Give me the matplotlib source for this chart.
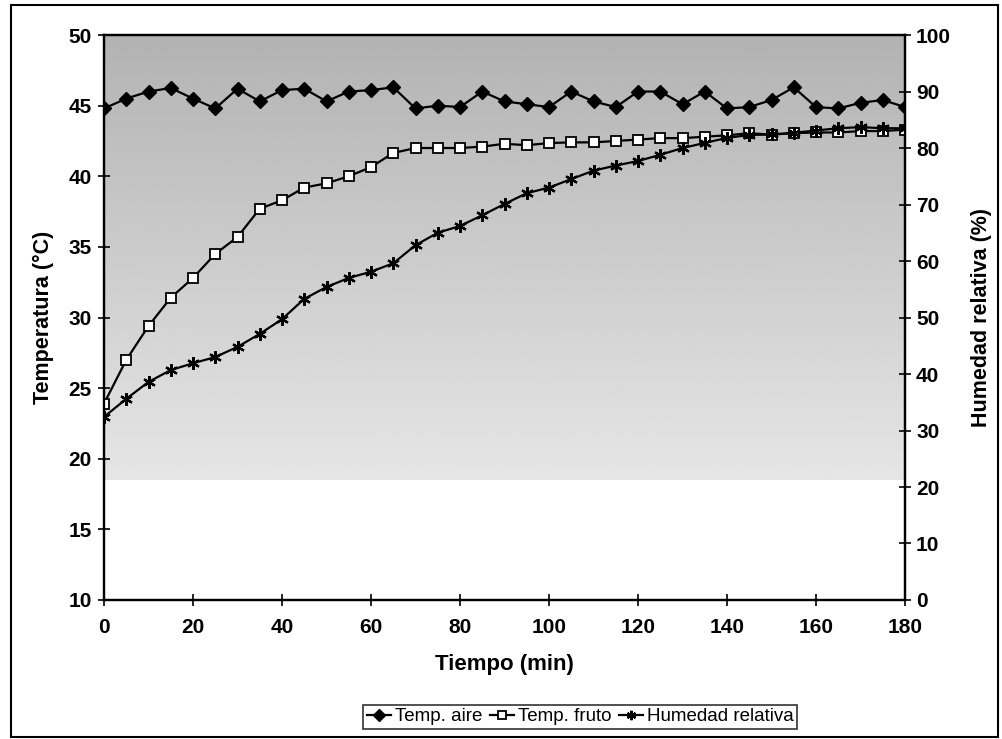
import numpy as np
import matplotlib
matplotlib.use("Agg")
import matplotlib.pyplot as plt
from matplotlib.patches import Rectangle

# time in minutes, one reading every 5 min
tiempo = list(range(0, 185, 5))

temp_aire = [44.8, 45.5, 46.0, 46.25, 45.5, 44.8, 46.2, 45.3, 46.1, 46.2,
             45.3, 46.0, 46.1, 46.3, 44.8, 45.0, 44.9, 46.0, 45.3, 45.1,
             44.9, 46.0, 45.3, 44.9, 46.0, 46.0, 45.1, 46.0, 44.8, 44.9,
             45.4, 46.3, 44.9, 44.8, 45.2, 45.4, 44.9]

temp_fruto = [23.9, 27.0, 29.4, 31.4, 32.8, 34.5, 35.7, 37.7, 38.3, 39.2,
              39.5, 40.0, 40.65, 41.65, 42.0, 42.0, 42.0, 42.1, 42.3, 42.2,
              42.35, 42.4, 42.4, 42.5, 42.6, 42.7, 42.7, 42.8, 42.9, 43.05,
              42.95, 43.05, 43.1, 43.1, 43.2, 43.2, 43.3]

humedad = [32.4, 35.6, 38.6, 40.7, 41.9, 43.0, 44.8, 47.1, 49.7, 53.3,
           55.4, 57.0, 58.1, 59.6, 62.8, 65.0, 66.2, 68.1, 70.1, 72.0,
           73.0, 74.5, 76.0, 76.9, 77.7, 78.8, 80.0, 80.9, 81.8, 82.3,
           82.4, 82.7, 83.1, 83.5, 83.7, 83.5, 83.5]

plt.rcParams['font.family'] = ['Liberation Sans', 'DejaVu Sans']

fig = plt.figure(figsize=(10.02, 7.39), dpi=100)
ax = fig.add_axes([0.1038, 0.1881, 0.7994, 0.7645])
ax2 = ax.twinx()

# shaded (halftone-like) background, lighter towards the bottom
grad = np.linspace(0.90, 0.70, 200).reshape(-1, 1)
ax.imshow(grad, extent=[0, 180, 18.5, 50], origin='lower', aspect='auto',
          cmap='gray', vmin=0, vmax=1, zorder=0)

ax.plot(tiempo, temp_aire, color='black', lw=1.6, marker='D', ms=7.5,
        mfc='black', mec='black', label='Temp. aire', zorder=3)
ax.plot(tiempo, temp_fruto, color='black', lw=1.6, marker='s', ms=7.5,
        mfc='white', mec='black', mew=1.3, label='Temp. fruto', zorder=3)
ax2.plot(tiempo, humedad, color='black', lw=1.6, marker=(6, 2, 0), ms=9,
         mec='black', mew=1.6, label='Humedad relativa', zorder=3)

ax.set_xlim(0, 180)
ax.set_ylim(10, 50)
ax2.set_ylim(0, 100)
ax.set_xticks(range(0, 181, 20))
ax.set_yticks(range(10, 51, 5))
ax2.set_yticks(range(0, 101, 10))

for a in (ax, ax2):
    for s in a.spines.values():
        s.set_linewidth(1.6)
ax.tick_params(direction='inout', length=8, width=1.2, labelsize=15, pad=5)
ax.tick_params(axis='x', pad=9)
ax2.tick_params(direction='inout', length=8, width=1.2, labelsize=15, pad=4)
for lab in ax.get_xticklabels() + ax.get_yticklabels() + ax2.get_yticklabels():
    lab.set_fontweight('bold')

ax.set_xlabel('Tiempo (min)', fontsize=16, fontweight='bold', labelpad=12)
ax.set_ylabel('Temperatura (°C)', fontsize=15.5, fontweight='bold', labelpad=10)
ax2.set_ylabel('Humedad relativa (%)', fontsize=15.5, fontweight='bold', labelpad=14)

h1, l1 = ax.get_legend_handles_labels()
h2, l2 = ax2.get_legend_handles_labels()
leg = fig.legend(h1 + h2, l1 + l2, loc='center', bbox_to_anchor=(0.579, 0.03),
                 ncol=3, frameon=True, fancybox=False, fontsize=13.5,
                 handlelength=1.3, handletextpad=0.2, columnspacing=0.4,
                 borderpad=0.2, borderaxespad=0, markerscale=0.75)
leg.get_frame().set_edgecolor('black')
leg.get_frame().set_linewidth(1.2)

# outer border of the chart
fig.patches.append(Rectangle((0.011, 0.003), 0.985, 0.99, transform=fig.transFigure,
                             fill=False, edgecolor='black', lw=1.5))

fig.savefig('out.png', dpi=100)
